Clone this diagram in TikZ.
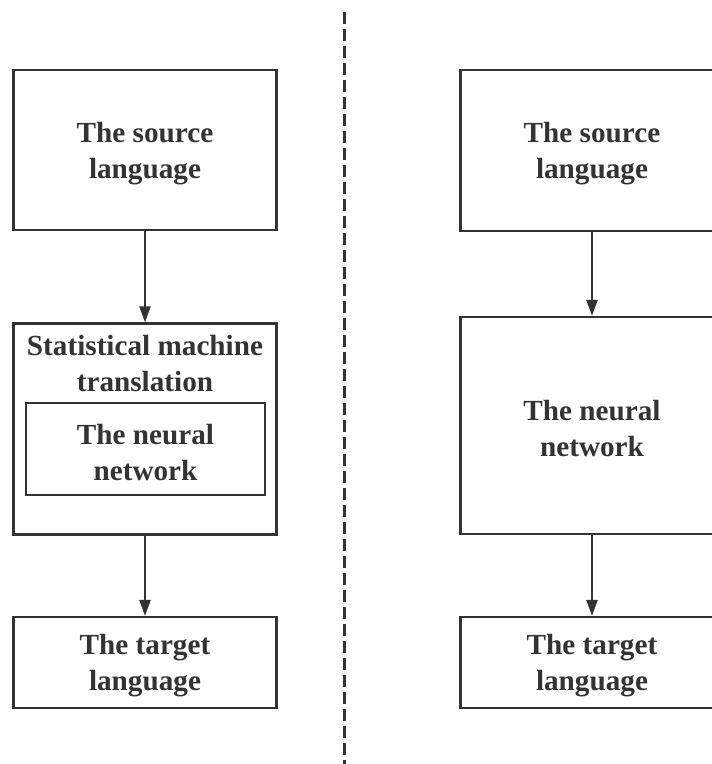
\documentclass[tikz,border=0pt]{standalone}
\usepackage{fontspec}
\setmainfont{Liberation Serif}
\usetikzlibrary{arrows.meta}
\definecolor{ink}{HTML}{333333}
\begin{document}
\begin{tikzpicture}[x=1pt,y=-1pt,
  box/.style={draw=ink,line width=2.2pt,rectangle,inner sep=0pt},
  lbl/.style={text=ink,align=center,inner sep=0pt,font=\fontsize{29.2}{36}\selectfont\bfseries},
  arr/.style={draw=ink,line width=2.2pt,-{Triangle[length=16pt,width=11pt]}}]
\useasboundingbox (0,0) rectangle (712,764);
\clip (0,0) rectangle (712,764);
% divider
\coordinate (dtop) at (344.5,12);
\coordinate (dbot) at (344.5,764);
\draw[ink,line width=2.2pt,dash pattern=on 12pt off 5pt] (dtop) -- (dbot);
% left column
\node[box,minimum width=263pt,minimum height=160pt] (ls) at (145,150) {};
\node[lbl] (lsl) at (145,154) {The source\\language};
\node[box,minimum width=263pt,minimum height=211pt] (smt) at (145,429) {};
\node[lbl] (smtl) at (145,364) {Statistical machine\\translation};
\node[box,minimum width=239pt,minimum height=92pt] (lnn) at (145.5,449) {};
\node[lbl] (lnnl) at (145.5,453) {The neural\\network};
\node[box,minimum width=263pt,minimum height=91pt] (lt) at (145,662.5) {};
\node[lbl] (ltl) at (145,666) {The target\\language};
\draw[arr] (ls.south) -- (smt.north);
\draw[arr] (smt.south) -- (lt.north);
% right column
\node[box,minimum width=263pt,minimum height=161pt] (rs) at (592,150.5) {};
\node[lbl] (rsl) at (592,154) {The source\\language};
\node[box,minimum width=263pt,minimum height=217pt] (rnn) at (592,425.5) {};
\node[lbl] (rnnl) at (592,429) {The neural\\network};
\node[box,minimum width=263pt,minimum height=91pt] (rt) at (592,662.5) {};
\node[lbl] (rtl) at (592,666) {The target\\language};
\draw[arr] (rs.south) -- (rnn.north);
\draw[arr] (rnn.south) -- (rt.north);
\end{tikzpicture}
\end{document}
